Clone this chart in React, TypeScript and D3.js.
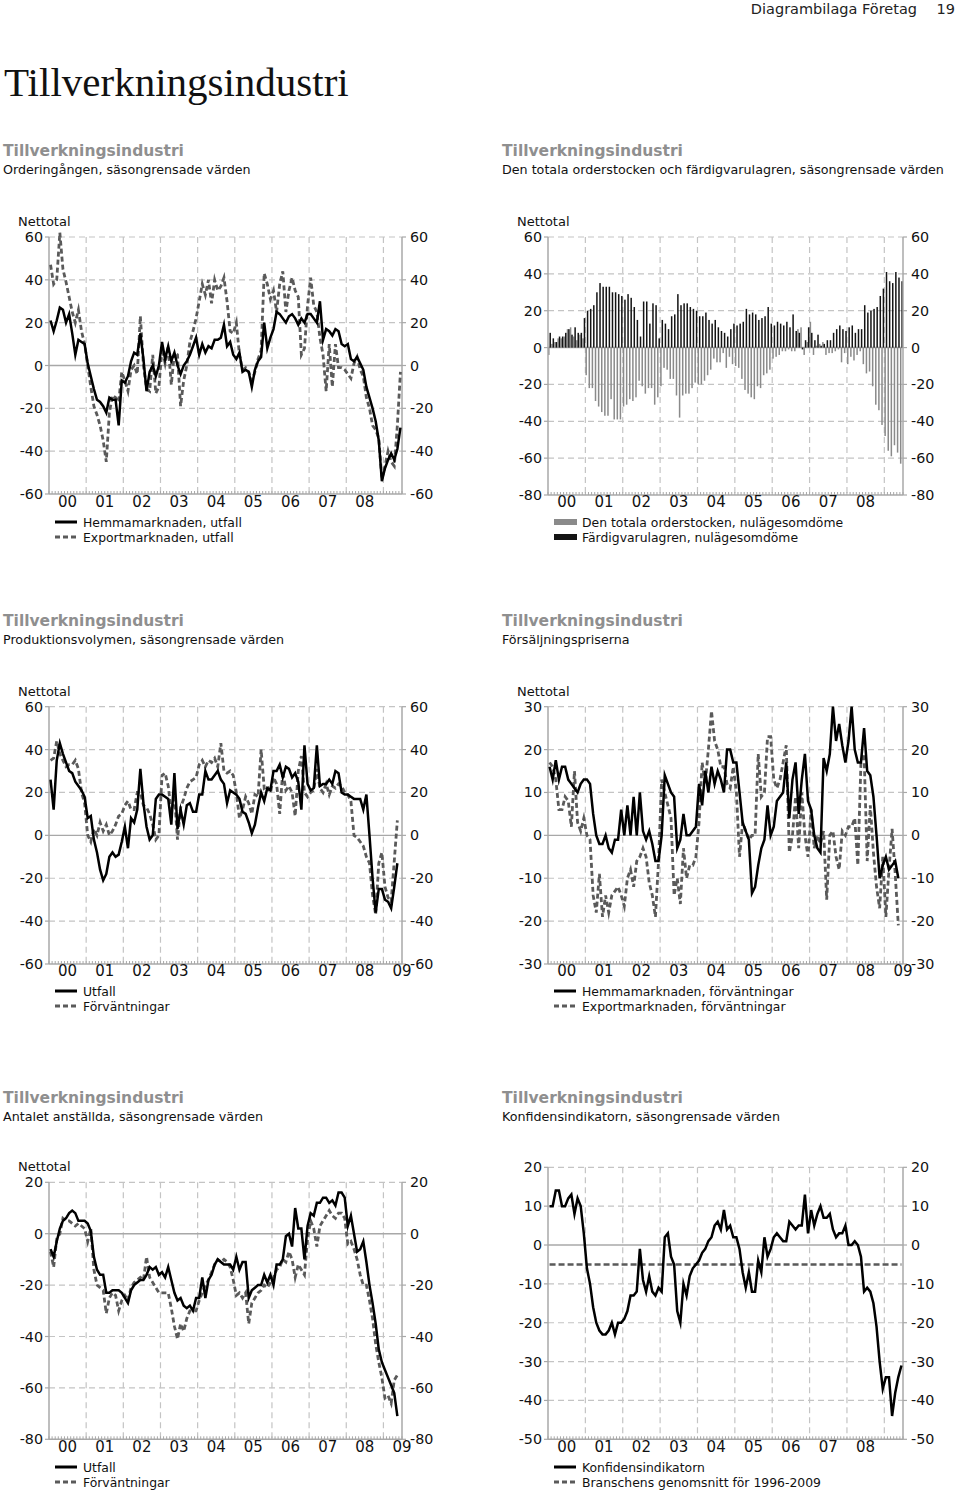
import React from 'react';
import * as d3 from 'd3';

// ---------- DATA (monthly, Jan 2000 onward) ----------
const YEAR_LABELS = ['00', '01', '02', '03', '04', '05', '06', '07', '08', '09'];

// Chart 1: Orderingången
const orderHemma = [21,16,21,27,26,20,24,15,5,12,11,10,
 1,-5,-11,-16,-17,-19,-22,-15,-16,-16,-28,-7,
 -8,-5,2,6,5,15,3,-12,-3,0,-5,0,
 11,3,9,2,6,0,-4,0,2,5,9,13,
 5,10,6,9,8,12,12,13,19,9,11,5,
 3,6,-3,-2,-3,-10,-2,2,4,20,8,13,
 17,25,24,22,20,23,24,22,19,22,20,24,
 24,22,20,30,12,17,16,14,17,16,10,9,
 10,3,2,4,1,-2,-10,-15,-20,-26,-35,-54,
 -48,-44,-41,-44,-39,-29];
const orderExport = [47,38,40,62,45,39,32,25,20,26,16,10,
 0,-10,-19,-23,-28,-35,-45,-22,-14,-15,-17,-3,
 -7,-12,-2,0,-4,23,0,-11,-12,5,-13,-10,
 8,1,9,-9,6,5,-19,-7,0,11,16,22,
 30,38,33,40,29,40,35,37,41,30,16,15,
 20,5,-2,-1,-3,-7,-3,3,7,43,38,31,
 35,25,38,44,25,35,41,35,32,5,8,28,
 41,28,25,13,5,-12,10,-10,10,-1,-1,-2,
 -4,-6,1,4,-2,-5,-15,-20,-28,-30,-34,-53,
 -47,-40,-45,-47,-28,-3];

// Chart 2: Orderstock (grey) and Färdigvarulager (black)
const orderstock = [-4,2,3,5,5,6,10,11,6,4,7,5,
 -15,-22,-22,-29,-32,-35,-37,-37,-28,-39,-39,-39,
 -32,-31,-28,-29,-27,-18,-21,-25,-22,-22,-31,-27,
 -21,-11,-12,-17,-17,-26,-38,-26,-25,-25,-22,-19,
 -20,-20,-18,-15,-12,-6,-8,-8,-3,-11,-5,-9,
 -10,-11,-17,-23,-25,-27,-28,-21,-22,-15,-14,-12,
 -6,-5,-4,-2,-2,-1,-2,-2,10,11,-4,3,
 14,-4,1,2,3,-4,-3,-3,-2,-1,-8,-3,
 -9,-5,-7,-4,-2,-9,-14,-13,-21,-31,-34,-42,
 -48,-56,-59,-53,-57,-63];
const lager = [8,5,3,6,6,8,10,7,11,8,8,16,
 20,21,23,30,35,33,33,33,30,30,29,28,
 26,29,27,22,15,6,25,25,13,24,23,5,
 15,13,10,17,18,29,23,24,24,22,21,20,
 17,17,19,15,13,15,11,9,8,6,10,13,
 12,13,14,21,18,19,18,15,16,17,22,13,
 12,14,13,12,14,11,18,9,8,-1,4,11,
 8,4,7,1,2,4,4,8,10,12,10,9,
 11,12,8,10,10,23,19,20,21,22,28,32,
 41,36,35,41,38,36];

// Chart 3: Produktionsvolym
const prodUtfall = [26,12,35,43,38,34,30,29,25,23,21,18,
 8,9,-2,-8,-16,-21,-18,-10,-8,-10,-9,-3,
 4,-6,8,6,12,31,15,4,-2,0,17,19,
 19,18,17,5,29,3,12,5,14,15,11,11,
 19,19,30,26,26,28,30,26,24,15,21,20,
 19,17,11,10,6,1,5,13,20,16,22,21,
 30,30,33,27,32,31,27,29,25,12,42,24,
 21,22,42,23,24,24,26,24,30,29,20,19,
 19,18,17,17,17,12,19,0,-20,-36,-25,-25,
 -30,-31,-34,-24,-13];
const prodForv = [35,36,44,38,35,32,33,33,35,31,20,15,
 0,-3,3,0,6,2,5,0,2,5,9,10,
 14,16,12,12,20,20,14,13,10,5,-2,0,
 28,29,23,11,19,-2,13,17,22,25,26,27,
 33,35,32,35,34,36,32,43,30,29,30,28,
 20,8,12,18,15,10,19,18,40,22,23,20,
 27,24,10,30,21,23,20,9,30,37,20,18,
 20,21,31,22,20,24,19,23,22,24,23,20,
 19,16,0,-1,-3,-5,-10,-13,-28,-37,-13,-8,
 -24,-29,-31,-12,7];

// Chart 4: Försäljningspriser
const prisHemma = [16,13,17.5,13,16,16,13,12,11,10,12,13,
 13,12,5,0,-2,-2,0,-3,-4,-1,-1,6,
 0,7,0,9,0,10,1,-1,1,-2,-6,-6,
 0,14,12,10,9,-3,-1,5,0,0,1,2,
 12,7,15,10,16,12,15,13,10,20,20,17,
 17,10,3,1,-1,-13.5,-12,-7,-3,-1,7,0,
 2,8,9,10,17,4,13,17,5,13,19,8,
 6,0,-3,-4,18,15,19,30,22,26,21,17,
 22,30,20,17,17,25,15,14,9,0,-10,-7,
 -5,-8,-7,-6,-10];
const prisExport = [17,16,13,6,6,9,8,2,15,3,1,4,
 0,-1,-14,-18,-9,-19,-14,-18,-14,-13,-12,-14,
 -16.5,-10,-8,-12,-6,-5,-3,-5,-11,-14,-19,-6,
 13,10,7,4,-14,-10,-16,-3,-10,-7,-7,-5,
 3,17,12,20,29,22,20,16,16,12,11,16,
 10,-5,3,1,-1,0,0,19,9,10,23,23,
 13,11,13,17,21,-4,0,9,-3,10,0,-5,
 6,-3,0,-2,1,-15,0,1,-5,-8,1,0,
 2,2,4,-7,17,19,-6,7,-4,-12,-17,-5,
 -19,-8,1.5,-9,-21];

// Chart 5: Antalet anställda
const anstUtfall = [-6,-9,-3,2,5,6,8,9,8,5,5,5,
 4,1,-9,-14,-16,-16,-23,-23,-22,-22,-22,-23,
 -25,-27,-22,-20,-19,-18,-18,-16,-13,-14,-13,-16,
 -15,-17,-13,-18,-23,-26,-25,-28,-29,-28,-30,-25,
 -25,-17,-25,-18,-16,-12,-10,-11,-12,-12,-12,-14,
 -9,-14,-11,-11,-25,-22,-21,-20,-20,-16,-19,-16,
 -20,-12,-12,-10,-1,0,-5,10,2,2,-10,3,
 8,7,12,12,14,14,12,13,11,16,16,14,
 3,7,0,-7,-6,-3,-11,-20,-27,-35,-45,-50,
 -53,-56,-59,-62,-71];
const anstForv = [-7,-13,-2,0,6,5,5,4,3,4,3,2,
 -3,2,-14,-20,-21,-22,-31,-25,-23,-24,-30,-26,
 -24,-26,-21,-19,-18,-17,-18,-9,-17,-19,-21,-23,
 -23,-23,-23,-29,-36,-41,-35,-38,-33,-30,-30,-30,
 -26,-23,-20,-18,-15,-12,-10,-11,-10,-11,-13,-18,
 -24,-23,-25,-23,-35,-27,-25,-23,-22,-20,-21,-19,
 -17,-14,-13,-10,-11,-7,-10,-17,-12,-14,-16,-2,
 5,2,-5,3,5,7,9,7,6,8,8,6,
 -4,-3,-6,-10,-16,-20,-20,-26,-33,-43,-50,-56,
 -64,-63,-66,-57,-55];

// Chart 6: Konfidensindikator
const konfidens = [10,10,14,14,10,10,12,13,8,12,10,3,
 -6,-10,-16,-20,-22,-23,-23,-22,-20,-23,-20,-20,
 -19,-17,-13,-13,-12,-1,-9,-12,-8,-12,-13,-11,
 -12,2,3,-3,-5,-17,-20,-10,-13,-8,-6,-5,
 -4,-2,-1,1,2,5,6,4,9,4,5,2,
 2,-1,-7,-11,-7,-12,-12,-4,-7,2,-3,-1,
 2,3,2,1,1,6,5,4,5,5,13,3,
 9,5,8,10,7,7,8,4,2,3,3,5,
 0,0,1,0,-3,-12,-11,-12,-15,-21,-30,-37,
 -34,-34,-44,-38,-34,-31];
const branschSnitt = -5;

// ---------- STYLE ----------
const FONT = 'DejaVu Sans, Verdana, sans-serif';
const GRID = '#c4c4c4';
const AXIS = '#a8a8a8';
const DARK = '#000000';
const GREY = '#5a5a5a';
const BAR_GREY = '#8a8a8a';
const BAR_BLACK = '#141414';
const N_MONTHS = 114;

type LineSeries = { values: number[]; dashed: boolean };
type LegendItem = { label: string; kind: 'solid' | 'dashed' | 'greyRect' | 'blackRect' };

interface ChartProps {
  left: number; right: number; top: number; bottom: number;
  yMin: number; yMax: number; step: number;
  showLastYear: boolean;
  nettotal: boolean;
  lines?: LineSeries[];
  bars?: { neg: number[]; pos: number[] };
  hline?: number;
  legend: LegendItem[];
  labelY: number;
  legendY: number;
  headX: number;
  headY: number;
  title: string;
  subtitle: string;
}

function Chart(p: ChartProps) {
  const x = d3.scaleLinear().domain([0, N_MONTHS]).range([p.left, p.right]);
  const y = d3.scaleLinear().domain([p.yMin, p.yMax]).range([p.bottom, p.top]);
  const ticks = d3.range(p.yMin, p.yMax + 0.001, p.step);
  const years = d3.range(1, 10).map((k) => k * 12);
  const months = d3.range(0, N_MONTHS + 1);
  const lineGen = d3.line<number>().x((_, i) => x(i + 0.5)).y((v) => y(v));
  const labelX = YEAR_LABELS.map((l, k) => ({ l, c: x(k * 12 + 6) })).filter((d, k) => k < 9 || p.showLastYear);
  const legendX = p.left + 6;
  return (
    <g>
      <text x={p.headX} y={p.headY} fontFamily={FONT} fontWeight="bold" fontSize={15.5} fill="#8f8f8f">{p.title}</text>
      <text x={p.headX} y={p.headY + 18} fontFamily={FONT} fontSize={12.7} fill="#111">{p.subtitle}</text>
      {p.nettotal && (
        <text x={p.left - 31} y={p.top - 11} fontFamily={FONT} fontSize={13} fill="#111">Nettotal</text>
      )}
      {/* horizontal grid */}
      {ticks.filter((t) => t !== p.yMin && t !== 0).map((t) => (
        <line key={'h' + t} x1={p.left} x2={p.right} y1={y(t)} y2={y(t)} stroke={GRID} strokeWidth={1.2} strokeDasharray="6 4" />
      ))}
      {/* vertical grid */}
      {years.map((m) => (
        <line key={'v' + m} x1={x(m)} x2={x(m)} y1={p.top} y2={p.bottom} stroke={GRID} strokeWidth={1.2} strokeDasharray="6 4" />
      ))}
      {/* zero line */}
      <line x1={p.left} x2={p.right} y1={y(0)} y2={y(0)} stroke={AXIS} strokeWidth={1.4} />
      {/* bars */}
      {p.bars && p.bars.neg.map((v, i) => {
        const c = x(i + 0.5);
        return <rect key={'bn' + i} x={c - 1.5} width={1.5} y={Math.min(y(v), y(0))} height={Math.abs(y(v) - y(0))} fill={BAR_GREY} />;
      })}
      {p.bars && p.bars.pos.map((v, i) => {
        const c = x(i + 0.5);
        return <rect key={'bp' + i} x={c - 0.1} width={1.5} y={Math.min(y(v), y(0))} height={Math.abs(y(v) - y(0))} fill={BAR_BLACK} />;
      })}
      {/* axes */}
      <line x1={p.left} x2={p.left} y1={p.top} y2={p.bottom} stroke={AXIS} strokeWidth={1.5} />
      <line x1={p.right} x2={p.right} y1={p.top} y2={p.bottom} stroke={AXIS} strokeWidth={1.5} />
      <line x1={p.left} x2={p.right} y1={p.bottom} y2={p.bottom} stroke={AXIS} strokeWidth={1.5} />
      {months.map((m) => (
        <line key={'mt' + m} x1={x(m)} x2={x(m)} y1={p.bottom} y2={p.bottom - 3} stroke={AXIS} strokeWidth={1} />
      ))}
      {ticks.map((t) => (
        <g key={'t' + t}>
          <line x1={p.left - 4} x2={p.left} y1={y(t)} y2={y(t)} stroke={AXIS} strokeWidth={1.2} />
          <line x1={p.right} x2={p.right + 4} y1={y(t)} y2={y(t)} stroke={AXIS} strokeWidth={1.2} />
          <text x={p.left - 6} y={y(t) + 5} textAnchor="end" fontFamily={FONT} fontSize={14.3} fill="#111">{String(t)}</text>
          <text x={p.right + 8} y={y(t) + 5} textAnchor="start" fontFamily={FONT} fontSize={14.3} fill="#111">{String(t)}</text>
        </g>
      ))}
      {labelX.map((d) => (
        <text key={'xl' + d.l} x={d.c} y={p.labelY} textAnchor="middle" fontFamily={FONT} fontSize={15} fill="#111">{d.l}</text>
      ))}
      {/* horizontal reference */}
      {p.hline !== undefined && (
        <line x1={x(0.5)} x2={x(N_MONTHS - 0.5)} y1={y(p.hline)} y2={y(p.hline)} stroke={GREY} strokeWidth={2.6} strokeDasharray="6 3" />
      )}
      {/* lines (dashed drawn first, solid on top) */}
      {p.lines && [...p.lines].sort((a, b) => (a.dashed === b.dashed ? 0 : a.dashed ? -1 : 1)).map((s, k) => (
        <path key={'ln' + k} d={lineGen(s.values) || ''} fill="none"
          stroke={s.dashed ? GREY : DARK} strokeWidth={s.dashed ? 2.8 : 2.5}
          strokeDasharray={s.dashed ? '5 3' : undefined} strokeLinejoin="miter" strokeMiterlimit={6} />
      ))}
      {/* legend */}
      {p.legend.map((it, k) => {
        const ly = p.legendY + k * 15;
        return (
          <g key={'lg' + k}>
            {it.kind === 'solid' && <line x1={legendX} x2={legendX + 22} y1={ly} y2={ly} stroke={DARK} strokeWidth={3} />}
            {it.kind === 'dashed' && <line x1={legendX} x2={legendX + 22} y1={ly} y2={ly} stroke={GREY} strokeWidth={3} strokeDasharray="5 3" />}
            {it.kind === 'greyRect' && <rect x={legendX} y={ly - 3} width={23} height={6} fill={BAR_GREY} />}
            {it.kind === 'blackRect' && <rect x={legendX} y={ly - 3} width={23} height={6} fill={BAR_BLACK} />}
            <text x={legendX + 28} y={ly + 5} fontFamily={FONT} fontSize={12.4} fill="#111">{it.label}</text>
          </g>
        );
      })}
    </g>
  );
}

export default function App() {
  const L = { left: 49, right: 402 };
  const R = { left: 548, right: 903 };
  return (
    <svg width={960} height={1493} viewBox="0 0 960 1493"
      style={{ position: 'absolute', left: 0, top: 0, display: 'block', background: '#fff' }}>
      <rect x={0} y={0} width={960} height={1493} fill="#fff" />
      <text x={917} y={14} textAnchor="end" fontFamily={FONT} fontSize={14.5} fill="#222">Diagrambilaga Företag</text>
      <text x={955} y={14} textAnchor="end" fontFamily={FONT} fontSize={14.5} fill="#222">19</text>
      <text x={4} y={96} fontFamily="Liberation Serif, serif" fontSize={41} fill="#111">Tillverkningsindustri</text>

      <Chart {...L} top={237} bottom={494} yMin={-60} yMax={60} step={20} showLastYear={false} nettotal
        lines={[{ values: orderHemma, dashed: false }, { values: orderExport, dashed: true }]}
        legend={[{ label: 'Hemmamarknaden, utfall', kind: 'solid' }, { label: 'Exportmarknaden, utfall', kind: 'dashed' }]}
        labelY={507} legendY={522} headX={3} headY={156}
        title="Tillverkningsindustri" subtitle="Orderingången, säsongrensade värden" />

      <Chart {...R} top={237} bottom={495} yMin={-80} yMax={60} step={20} showLastYear={false} nettotal
        bars={{ neg: orderstock, pos: lager }}
        legend={[{ label: 'Den totala orderstocken, nulägesomdöme', kind: 'greyRect' }, { label: 'Färdigvarulagren, nulägesomdöme', kind: 'blackRect' }]}
        labelY={507} legendY={522} headX={502} headY={156}
        title="Tillverkningsindustri" subtitle="Den totala orderstocken och färdigvarulagren, säsongrensade värden" />

      <Chart {...L} top={706.7} bottom={964} yMin={-60} yMax={60} step={20} showLastYear nettotal
        lines={[{ values: prodUtfall, dashed: false }, { values: prodForv, dashed: true }]}
        legend={[{ label: 'Utfall', kind: 'solid' }, { label: 'Förväntningar', kind: 'dashed' }]}
        labelY={976} legendY={991} headX={3} headY={626}
        title="Tillverkningsindustri" subtitle="Produktionsvolymen, säsongrensade värden" />

      <Chart {...R} top={706.7} bottom={964} yMin={-30} yMax={30} step={10} showLastYear nettotal
        lines={[{ values: prisHemma, dashed: false }, { values: prisExport, dashed: true }]}
        legend={[{ label: 'Hemmamarknaden, förväntningar', kind: 'solid' }, { label: 'Exportmarknaden, förväntningar', kind: 'dashed' }]}
        labelY={976} legendY={991} headX={502} headY={626}
        title="Tillverkningsindustri" subtitle="Försäljningspriserna" />

      <Chart {...L} top={1182.3} bottom={1439.3} yMin={-80} yMax={20} step={20} showLastYear nettotal
        lines={[{ values: anstUtfall, dashed: false }, { values: anstForv, dashed: true }]}
        legend={[{ label: 'Utfall', kind: 'solid' }, { label: 'Förväntningar', kind: 'dashed' }]}
        labelY={1452} legendY={1467} headX={3} headY={1103}
        title="Tillverkningsindustri" subtitle="Antalet anställda, säsongrensade värden" />

      <Chart {...R} top={1167.3} bottom={1439.3} yMin={-50} yMax={20} step={10} showLastYear={false} nettotal={false}
        lines={[{ values: konfidens, dashed: false }]}
        hline={branschSnitt}
        legend={[{ label: 'Konfidensindikatorn', kind: 'solid' }, { label: 'Branschens genomsnitt för 1996-2009', kind: 'dashed' }]}
        labelY={1452} legendY={1467} headX={502} headY={1103}
        title="Tillverkningsindustri" subtitle="Konfidensindikatorn, säsongrensade värden" />
    </svg>
  );
}
